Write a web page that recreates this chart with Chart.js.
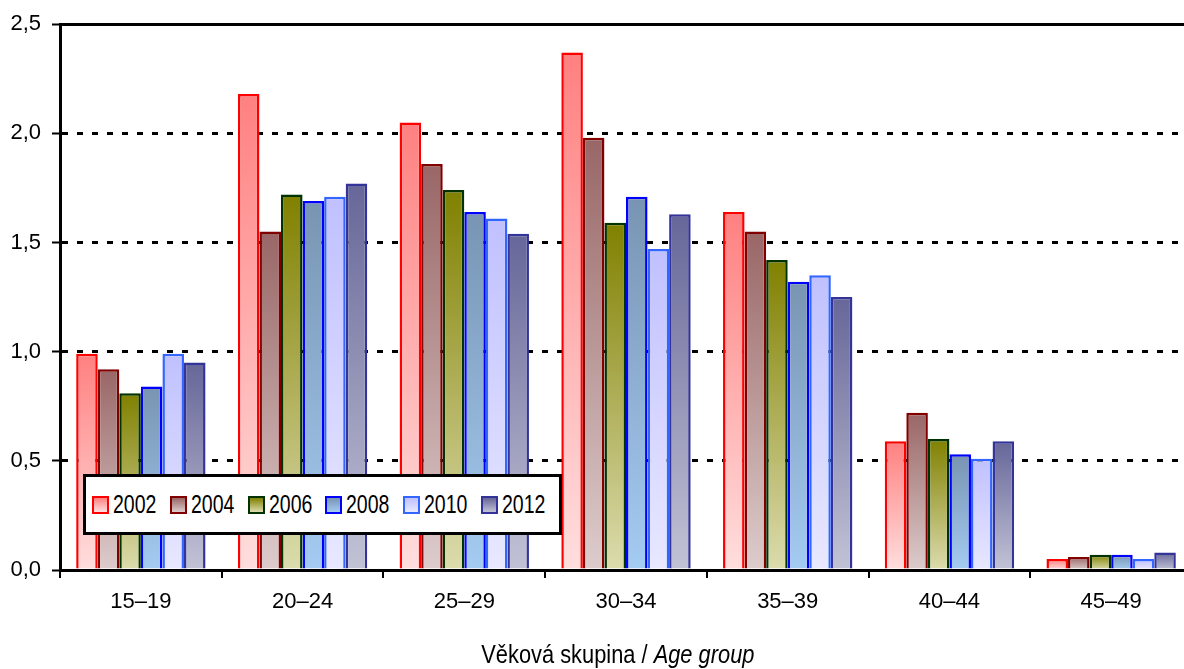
<!DOCTYPE html>
<html>
<head>
<meta charset="utf-8">
<script src="https://cdn.jsdelivr.net/npm/chart.js@4.4.1/dist/chart.umd.min.js"></script>
<style>
  html, body { margin: 0; padding: 0; background: #fff; overflow: hidden; }
  #wrap { position: relative; width: 1196px; height: 669px; }
  .f { font-family: 'Liberation Sans', Arial, sans-serif; }
  #legend {
    position: absolute; left: 83px; top: 474px; width: 473px; height: 55px;
    border: 3px solid #000; background: #fff;
    display: flex; align-items: center; box-sizing: content-box;
  }
  #legend .item { display: flex; align-items: center; width: 80px; color: #000; }
  #legend .item:first-child { margin-left: 6px; }
  #legend .sw { width: 13px; height: 14px; border: 2px solid; margin-right: 4px; flex: none; }
  #legend .txt { font-size: 25px; display: inline-block; transform: scaleX(0.78); transform-origin: left center; }
  #xtitle {
    position: absolute; left: 0; width: 1236px; top: 639px;
    text-align: center; font-size: 26px; color: #000;
    transform: scaleX(0.84); transform-origin: 617px 0;
  }
</style>
</head>
<body>
<div id="wrap">
  <canvas id="chart" width="1196" height="669"></canvas>
  <div id="legend" class="f"></div>
  <div id="xtitle" class="f">Věková skupina / <i>Age group</i></div>
</div>
<script>
// age groups on the x axis
const ageGroups = ['15–19', '20–24', '25–29', '30–34', '35–39', '40–44', '45–49'];
const years = ['2002', '2004', '2006', '2008', '2010', '2012'];
const yTickLabels = ['0,0', '0,5', '1,0', '1,5', '2,0', '2,5'];

// values
const v2002 = [0.99, 2.18, 2.05, 2.37, 1.64, 0.59, 0.05];
const v2004 = [0.92, 1.55, 1.86, 1.98, 1.55, 0.72, 0.06];
const v2006 = [0.81, 1.72, 1.74, 1.59, 1.42, 0.60, 0.07];
const v2008 = [0.84, 1.69, 1.64, 1.71, 1.32, 0.53, 0.07];
const v2010 = [0.99, 1.71, 1.61, 1.47, 1.35, 0.51, 0.05];
const v2012 = [0.95, 1.77, 1.54, 1.63, 1.25, 0.59, 0.08];
const seriesValues = [v2002, v2004, v2006, v2008, v2010, v2012];

// border, gradient top, gradient bottom
const styles = [
    ['#ff0000', '#ff8080', '#ffdede'],
    ['#800000', '#996666', '#ddcccc'],
    ['#003300', '#808000', '#dcdcae'],
    ['#0000ff', '#7894b2', '#a4cbf2'],
    ['#3366ff', '#c0c0ff', '#e8e8ff'],
    ['#333399', '#666699', '#c2c2d6']
];

const FONT = "'Liberation Sans', Arial, sans-serif";

function gradient(top, bottom) {
    return function (ctx) {
        const chart = ctx.chart;
        if (!chart.chartArea || ctx.type !== 'data') return top;
        const y = chart.scales.y;
        const y0 = y.getPixelForValue(0);
        const y1 = y.getPixelForValue(ctx.raw);
        if (!isFinite(y0) || !isFinite(y1) || y0 === y1) return top;
        const g = chart.ctx.createLinearGradient(0, y1, 0, y0);
        g.addColorStop(0, top);
        g.addColorStop(1, bottom);
        return g;
    };
}

const datasets = years.map((yr, i) => ({
    label: yr,
    data: seriesValues[i],
    backgroundColor: gradient(styles[i][1], styles[i][2]),
    borderColor: styles[i][0],
    borderWidth: 2.5,
    categoryPercentage: 0.8,
    barPercentage: 1.0
}));

// html legend
const legendEl = document.getElementById('legend');
years.forEach((yr, i) => {
    const item = document.createElement('div');
    item.className = 'item';
    const sw = document.createElement('span');
    sw.className = 'sw';
    sw.style.borderColor = styles[i][0];
    sw.style.background = 'linear-gradient(' + styles[i][1] + ',' + styles[i][2] + ')';
    const txt = document.createElement('span');
    txt.className = 'txt';
    txt.textContent = yr;
    item.appendChild(sw);
    item.appendChild(txt);
    legendEl.appendChild(item);
});

const ctx = document.getElementById('chart').getContext('2d');
new Chart(ctx, {
    type: 'bar',
    data: { labels: ageGroups, datasets: datasets },
    options: {
        responsive: false,
        animation: false,
        layout: { padding: { top: 21, right: 4, left: 0, bottom: 0 } },
        plugins: {
            legend: { display: false },
            tooltip: { enabled: false }
        },
        scales: {
            x: {
                grid: {
                    offset: true,
                    drawOnChartArea: false,
                    tickLength: 8,
                    color: '#000',
                    lineWidth: 2
                },
                border: { color: '#000', width: 3 },
                ticks: {
                    color: '#000',
                    padding: 11,
                    font: { family: FONT, size: 22 }
                },
                afterFit: axis => { axis.height = 99; }
            },
            xTop: {
                position: 'top',
                display: true,
                grid: { display: false },
                ticks: { display: false },
                border: { color: '#000', width: 3 },
                afterFit: axis => { axis.height = 0; }
            },
            y: {
                min: 0,
                max: 2.5,
                ticks: {
                    stepSize: 0.5,
                    color: '#000',
                    padding: 11,
                    font: { family: FONT, size: 22 },
                    callback: (val, idx) => yTickLabels[idx]
                },
                grid: {
                    color: '#000',
                    lineWidth: 3,
                    tickLength: 8,
                    tickColor: '#000',
                    tickWidth: 2,
                    tickBorderDash: []
                },
                border: { color: '#000', width: 3, dash: [6, 9] },
                afterFit: axis => { axis.width = 60; }
            }
        }
    }
});
</script>
</body>
</html>
